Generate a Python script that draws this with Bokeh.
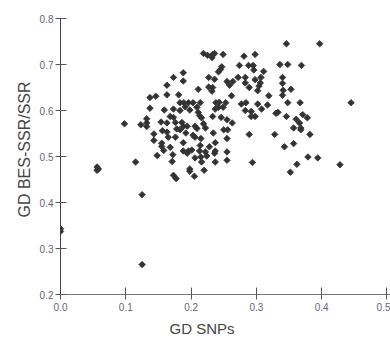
import math
from bokeh.plotting import figure
from bokeh.models import FixedTicker, Range1d, Title
from bokeh.embed import file_html
from bokeh.resources import INLINE

# ---- data ----
gd_snps = [
    0.346, 0.397, 0.219, 0.225, 0.233, 0.236, 0.232, 0.249, 0.281, 0.298,
    0.188, 0.188, 0.247, 0.245, 0.242, 0.274, 0.288, 0.295, 0.296, 0.311,
    0.336, 0.348, 0.369, 0.227, 0.236, 0.255, 0.259, 0.264, 0.272, 0.283,
    0.283, 0.289, 0.298, 0.307, 0.306, 0.304, 0.302, 0.340, 0.340, 0.341,
    0.340, 0.353, 0.227, 0.233, 0.232, 0.211, 0.262, 0.319, 0.183, 0.189,
    0.196, 0.203, 0.214, 0.191, 0.198, 0.209, 0.211, 0.213, 0.216, 0.238,
    0.243, 0.253, 0.237, 0.242, 0.249, 0.233, 0.246, 0.255, 0.263, 0.277,
    0.284, 0.283, 0.292, 0.292, 0.298, 0.302, 0.308, 0.317, 0.330, 0.333,
    0.346, 0.348, 0.367, 0.371, 0.378, 0.361, 0.366, 0.357, 0.368, 0.368,
    0.382, 0.445, 0.289, 0.328, 0.357, 0.343, 0.379, 0.394, 0.362, 0.352,
    0.428, 0.294, 0.188, 0.194, 0.192, 0.183, 0.206, 0.209, 0.203, 0.206,
    0.219, 0.222, 0.234, 0.250, 0.256, 0.255, 0.188, 0.215, 0.214, 0.237,
    0.188, 0.196, 0.201, 0.194, 0.213, 0.222, 0.228, 0.237, 0.236, 0.255,
    0.206, 0.215, 0.224, 0.216, 0.237, 0.255, 0.198, 0.198, 0.205, 0.220,
    0.173, 0.163, 0.137, 0.146, 0.163, 0.181, 0.137, 0.159, 0.173, 0.168,
    0.173, 0.154, 0.163, 0.176, 0.132, 0.132, 0.132, 0.123, 0.098, 0.143,
    0.156, 0.163, 0.178, 0.143, 0.155, 0.165, 0.176, 0.155, 0.158, 0.168,
    0.148, 0.172, 0.115, 0.183, 0.186, 0.171, 0.173, 0.177, 0.125, 0.000,
    0.000, 0.125, 0.056, 0.056, 0.058,
]
gd_bes_ssr = [
    0.745, 0.745, 0.724, 0.720, 0.722, 0.724, 0.715, 0.722, 0.718, 0.722,
    0.682, 0.664, 0.695, 0.689, 0.684, 0.698, 0.698, 0.698, 0.688, 0.685,
    0.700, 0.700, 0.698, 0.672, 0.668, 0.663, 0.655, 0.663, 0.672, 0.672,
    0.660, 0.650, 0.667, 0.672, 0.660, 0.653, 0.643, 0.672, 0.659, 0.644,
    0.633, 0.646, 0.651, 0.650, 0.642, 0.646, 0.632, 0.632, 0.617, 0.617,
    0.617, 0.617, 0.617, 0.608, 0.601, 0.607, 0.596, 0.589, 0.584, 0.617,
    0.618, 0.617, 0.603, 0.607, 0.607, 0.587, 0.585, 0.580, 0.573, 0.614,
    0.617, 0.600, 0.598, 0.587, 0.587, 0.614, 0.603, 0.612, 0.594, 0.596,
    0.587, 0.617, 0.617, 0.591, 0.584, 0.581, 0.573, 0.562, 0.562, 0.558,
    0.548, 0.617, 0.548, 0.548, 0.528, 0.521, 0.499, 0.497, 0.483, 0.466,
    0.482, 0.487, 0.565, 0.566, 0.551, 0.558, 0.566, 0.561, 0.546, 0.542,
    0.571, 0.562, 0.551, 0.558, 0.558, 0.539, 0.530, 0.539, 0.524, 0.530,
    0.512, 0.512, 0.514, 0.507, 0.512, 0.510, 0.521, 0.512, 0.507, 0.510,
    0.497, 0.499, 0.501, 0.488, 0.488, 0.492, 0.473, 0.468, 0.457, 0.470,
    0.672, 0.655, 0.628, 0.631, 0.634, 0.634, 0.605, 0.601, 0.603, 0.587,
    0.585, 0.575, 0.573, 0.574, 0.582, 0.573, 0.565, 0.569, 0.571, 0.549,
    0.556, 0.553, 0.560, 0.535, 0.529, 0.542, 0.542, 0.522, 0.513, 0.520,
    0.502, 0.504, 0.488, 0.600, 0.574, 0.489, 0.459, 0.452, 0.417, 0.343,
    0.337, 0.265, 0.477, 0.470, 0.473,
]
x_ticks = [0.0, 0.1, 0.2, 0.3, 0.4, 0.5]
x_tick_labels = ["0.0", "0.1", "0.2", "0.3", "0.4", "0.5"]
y_ticks = [0.2, 0.3, 0.4, 0.5, 0.6, 0.7, 0.8]
y_tick_labels = ["0.2", "0.3", "0.4", "0.5", "0.6", "0.7", "0.8"]
x_title = "GD SNPs"
y_title = "GD BES-SSR/SSR"

FONT = "Liberation Sans"

p = figure(width=390, height=343, output_backend="svg", toolbar_location=None,
           x_range=Range1d(0, 0.5054), y_range=Range1d(0.2, 0.8),
           min_border_left=60, min_border_right=0, min_border_top=18,
           min_border_bottom=49)
p.outline_line_color = None
p.grid.visible = False
p.background_fill_color = "white"

p.scatter(gd_snps, gd_bes_ssr, marker="square", size=4.6, angle=math.pi / 4,
          fill_color="#333333", line_color="#333333", line_width=0.8)

p.xaxis.ticker = FixedTicker(ticks=x_ticks)
p.xaxis.major_label_overrides = dict(zip(x_ticks, x_tick_labels))
p.yaxis.ticker = FixedTicker(ticks=y_ticks)
p.yaxis.major_label_overrides = dict(zip(y_ticks, y_tick_labels))

for ax in (p.xaxis[0], p.yaxis[0]):
    ax.minor_tick_line_color = None
    ax.major_label_text_font = FONT
    ax.major_label_text_font_size = "10px"
    ax.major_label_text_color = "#666677"

p.xaxis.axis_line_color = "#777777"
p.xaxis.major_tick_line_color = "#555555"
p.xaxis.major_tick_in = 7
p.xaxis.major_tick_out = 5
p.xaxis.major_label_standoff = 3

p.yaxis.axis_line_color = "#444444"
p.yaxis.major_tick_line_color = "#555555"
p.yaxis.major_tick_in = 6
p.yaxis.major_tick_out = 5
p.yaxis.major_label_standoff = 2

p.add_layout(Title(text=x_title, align="left", offset=109, standoff=8,
                   text_font=FONT, text_font_size="15px",
                   text_font_style="normal", text_color="#444444"), "below")
p.add_layout(Title(text=y_title, align="left", offset=77, standoff=8,
                   text_font=FONT, text_font_size="16px",
                   text_font_style="normal", text_color="#444444"), "left")

open("out.html", "w").write(file_html(p, INLINE))
